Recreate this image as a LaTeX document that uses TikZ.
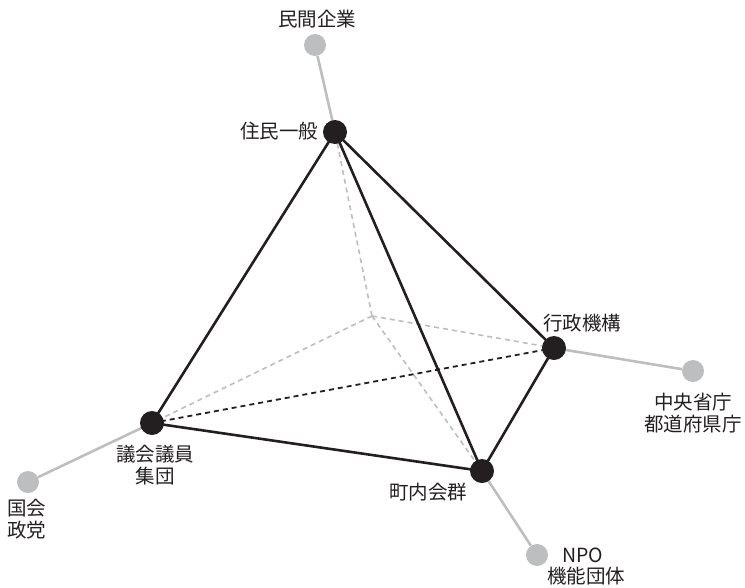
\documentclass[tikz,border=0pt]{standalone}
\usepackage{fontspec}
\setmainfont{Noto Sans CJK JP}
\definecolor{ink}{HTML}{231F20}
\definecolor{lgray}{HTML}{BCBEC0}
\begin{document}
\begin{tikzpicture}[x=1pt,y=-1pt,
  blk/.style={circle,fill=ink,minimum size=24pt,inner sep=0pt},
  gry/.style={circle,fill=lgray,minimum size=22pt,inner sep=0pt},
  lbl/.style={font=\fontsize{19.5}{22.5}\selectfont,text=ink,inner sep=0pt,align=center},
  solidline/.style={draw=ink,line width=2.6pt},
  grayline/.style={draw=lgray,line width=2.6pt},
  hid/.style={draw=lgray,line width=1.6pt,dash pattern=on 5pt off 4pt},
  hidblack/.style={draw=ink,line width=1.8pt,dash pattern=on 5pt off 4pt}]
\useasboundingbox (0,0) rectangle (745,587);
\coordinate (c) at (372,316);
\coordinate (pA) at (335,132);
\coordinate (pB) at (554,348);
\coordinate (pC) at (152,423);
\coordinate (pD) at (482,471);
% hidden edges
\draw[hid] (c) -- (pA);
\draw[hid] (c) -- (pB);
\draw[hid] (c) -- (pC);
\draw[hid] (c) -- (pD);
\draw[hidblack] (pC) -- (pB);
% outer gray
\node[gry] (gA) at (315,45) {};
\node[gry] (gB) at (693,371) {};
\node[gry] (gC) at (28,482) {};
\node[gry] (gD) at (537,555) {};
\draw[grayline] (gA) -- (pA);
\draw[grayline] (gB) -- (pB);
\draw[grayline] (gC) -- (pC);
\draw[grayline] (gD) -- (pD);
% solid edges
\draw[solidline] (pA) -- (pC);
\draw[solidline] (pA) -- (pB);
\draw[solidline] (pA) -- (pD);
\draw[solidline] (pC) -- (pD);
\draw[solidline] (pD) -- (pB);
% black nodes
\node[blk] (nA) at (pA) {};
\node[blk] (nB) at (pB) {};
\node[blk] (nC) at (pC) {};
\node[blk] (nD) at (pD) {};
% labels
\node[lbl] (tgA) at (317,19) {民間企業};
\node[lbl] (tA) at (279,131) {住民一般};
\node[lbl] (tB) at (582,323) {行政機構};
\node[lbl] (tgB) at (693,413) {中央省庁\\都道府県庁};
\node[lbl] (tC) at (155,465) {議会議員\\集団};
\node[lbl] (tgC) at (27,519) {国会\\政党};
\node[lbl] (tD) at (428,492) {町内会群};
\node[lbl] (tgD1) at (583,555) {NPO};
\node[lbl] (tgD2) at (586,576) {機能団体};
\end{tikzpicture}
\end{document}
